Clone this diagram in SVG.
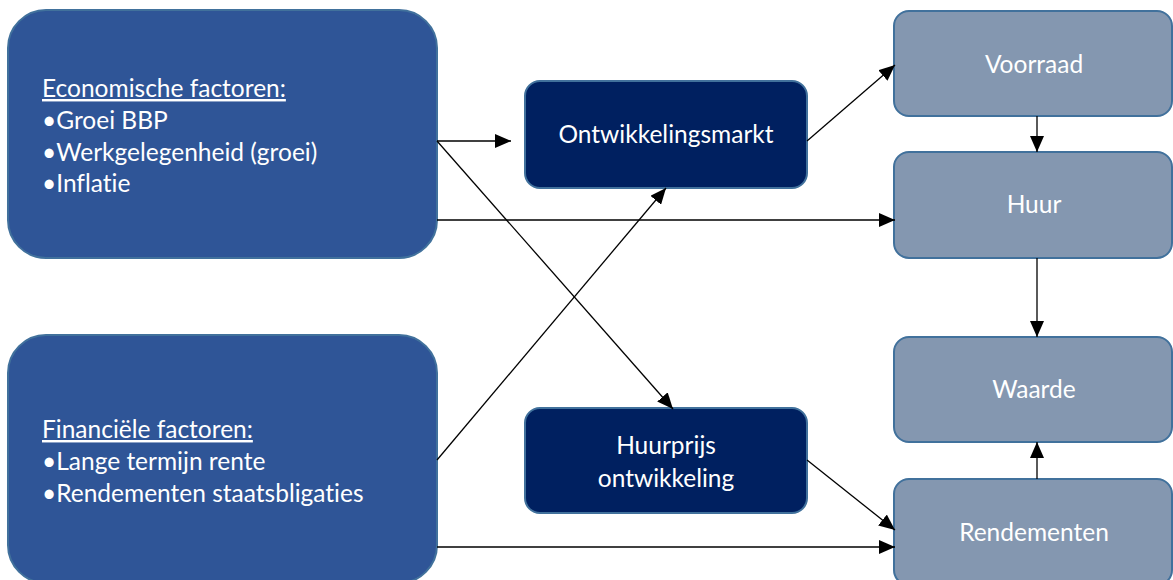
<svg xmlns="http://www.w3.org/2000/svg" width="1173" height="580" viewBox="0 0 1173 580">
<style>
.big{fill:#2F5597;stroke:#41719C;stroke-width:2}
.mid{fill:#002060;stroke:#41719C;stroke-width:2}
.sm{fill:#8497B0;stroke:#41719C;stroke-width:2}
text{font-family:Lato,"Liberation Sans",sans-serif;font-size:24.5px;fill:#ffffff;font-variant-ligatures:none}
.c{text-anchor:middle}
.u{text-decoration:underline}
.con path{fill:none;stroke:#000;stroke-width:1.3}
</style>
<defs>
<marker id="ah" markerUnits="userSpaceOnUse" markerWidth="16" markerHeight="14" viewBox="0 0 16 14" refX="16" refY="7" orient="auto">
<path d="M0,0 L16,7 L0,14 Z" fill="#000"/>
</marker>
</defs>
<rect width="1173" height="580" fill="#ffffff"/>
<g id="economische">
<rect class="big" x="8" y="10" width="429" height="248" rx="38"/>
<text x="42" y="97" class="u">Economische factoren:</text>
<text x="42" y="129">•Groei BBP</text>
<text x="42" y="161">•Werkgelegenheid (groei)</text>
<text x="42" y="192">•Inflatie</text>
</g>
<g id="financiele">
<rect class="big" x="8" y="335" width="429" height="248" rx="38"/>
<text x="42" y="438" class="u">Financiële factoren:</text>
<text x="42" y="470">•Lange termijn rente</text>
<text x="42" y="502">•Rendementen staatsbligaties</text>
</g>
<g id="ontwikkelingsmarkt">
<rect class="mid" x="525" y="81" width="282" height="107" rx="15"/>
<text x="666" y="143" class="c">Ontwikkelingsmarkt</text>
</g>
<g id="huurprijs">
<rect class="mid" x="525" y="408" width="282" height="105" rx="15"/>
<text x="666" y="454" class="c">Huurprijs</text>
<text x="666" y="487" class="c">ontwikkeling</text>
</g>
<g id="voorraad">
<rect class="sm" x="894" y="11" width="278" height="105" rx="15"/>
<text x="1034" y="73" class="c">Voorraad</text>
</g>
<g id="huur">
<rect class="sm" x="894" y="152" width="278" height="106" rx="15"/>
<text x="1034" y="213" class="c">Huur</text>
</g>
<g id="waarde">
<rect class="sm" x="894" y="337" width="278" height="105" rx="15"/>
<text x="1034" y="398" class="c">Waarde</text>
</g>
<g id="rendementen">
<rect class="sm" x="894" y="479" width="278" height="106" rx="15"/>
<text x="1034" y="541" class="c">Rendementen</text>
</g>
<g class="con" id="connectors">
<path d="M437,141 L511,141" marker-end="url(#ah)"/>
<path d="M437,141 L673,409" marker-end="url(#ah)"/>
<path d="M437,220 L895,220" marker-end="url(#ah)"/>
<path d="M437,460 L666,188" marker-end="url(#ah)"/>
<path d="M437,547 L895,547" marker-end="url(#ah)"/>
<path d="M807,460 L895,530" marker-end="url(#ah)"/>
<path d="M807,141 L895,65" marker-end="url(#ah)"/>
<path d="M1037,116 L1037,152" marker-end="url(#ah)"/>
<path d="M1037,258 L1037,337" marker-end="url(#ah)"/>
<path d="M1037,479 L1037,442" marker-end="url(#ah)"/>
</g>
</svg>
